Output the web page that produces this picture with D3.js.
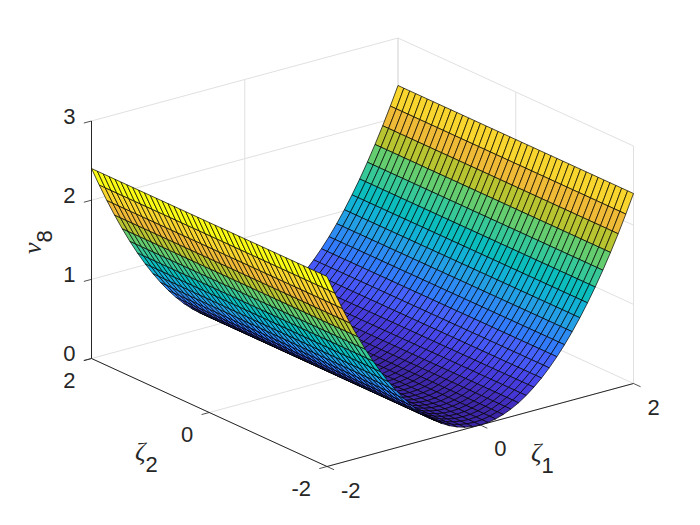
<!DOCTYPE html>
<html>
<head>
<meta charset="utf-8">
<script src="https://cdnjs.cloudflare.com/ajax/libs/d3/7.8.5/d3.min.js"></script>
<style>
  html, body { margin: 0; padding: 0; background: #fff; }
  svg { display: block; }
  text { font-family: "Liberation Sans", Arial, sans-serif; fill: #262626; }
  .greek { font-family: "Liberation Serif", serif; font-style: italic; }
</style>
</head>
<body>
<svg id="chart" width="700" height="525"></svg>
<script>
// Grid of the surface (one cell every 0.1)
var zeta1 = [-2, -1.9, -1.8, -1.7, -1.6, -1.5, -1.4, -1.3, -1.2, -1.1, -1, -0.9, -0.8, -0.7, -0.6, -0.5, -0.4, -0.3, -0.2, -0.1, 0,
             0.1, 0.2, 0.3, 0.4, 0.5, 0.6, 0.7, 0.8, 0.9, 1, 1.1, 1.2, 1.3, 1.4, 1.5, 1.6, 1.7, 1.8, 1.9, 2];
var zeta2 = [-2, -1.9, -1.8, -1.7, -1.6, -1.5, -1.4, -1.3, -1.2, -1.1, -1, -0.9, -0.8, -0.7, -0.6, -0.5, -0.4, -0.3, -0.2, -0.1, 0,
             0.1, 0.2, 0.3, 0.4, 0.5, 0.6, 0.7, 0.8, 0.9, 1, 1.1, 1.2, 1.3, 1.4, 1.5, 1.6, 1.7, 1.8, 1.9, 2];
// Height of the trough at each zeta1 (same for every zeta2)
var nuProfile = [2.4, 2.166, 1.944, 1.734, 1.536, 1.35, 1.176, 1.014, 0.864, 0.726, 0.6, 0.486, 0.384, 0.294, 0.216, 0.15, 0.096, 0.054, 0.024, 0.006, 0,
                 0.006, 0.024, 0.054, 0.096, 0.15, 0.216, 0.294, 0.384, 0.486, 0.6, 0.726, 0.864, 1.014, 1.176, 1.35, 1.536, 1.734, 1.944, 2.166, 2.4];

var zeta1Ticks = [-2, 0, 2];
var zeta2Ticks = [-2, 0, 2];
var nuTicks = [0, 1, 2, 3];

// parula colormap, 64 steps
var parula = ["#3e26a8","#402ab5","#422ebf","#4332cb","#4537d5","#463cde","#4741e5","#4747eb","#484df0","#4852f4","#4758f8","#465efb","#4563fc","#4269fe","#3e6fff","#3875fe","#327bfc","#2f81fa","#2d87f7","#2d8cf3","#2b91ef","#2796eb","#259be7","#23a0e5","#20a5e3","#1ca9df","#18addb","#12b1d6","#08b5d0","#01b8ca","#02bac3","#0bbdbc","#19bfb5","#24c1ae","#2cc3a7","#31c69f","#37c897","#3fca8e","#4acb84","#57cc7a","#64cd6f","#72cd64","#81cc59","#8fcb4e","#9dc943","#abc739","#b9c431","#c5c22a","#d1bf27","#dcbd29","#e6bb2d","#efba36","#f8ba3d","#febe3c","#fec338","#fec934","#fccf30","#f9d62d","#f7dc2a","#f5e327","#f5e924","#f6ef20","#f7f51b","#f9fb14"];

// Box of the axes on screen: one unit along each data axis
var origin = { x: 327, y: 466.5 };   // zeta1 = -2, zeta2 = -2, nu = 0
var sx1 = d3.scaleLinear().domain([-2, 2]).range([0, 306.5]);
var sy1 = d3.scaleLinear().domain([-2, 2]).range([0, -83]);
var sx2 = d3.scaleLinear().domain([-2, 2]).range([0, -235.5]);
var sy2 = d3.scaleLinear().domain([-2, 2]).range([0, -108]);
var sz = d3.scaleLinear().domain([0, 3]).range([0, -237.5]);
var color = d3.scaleQuantize().domain([0, 2.4]).range(parula);

function project(a, b, c) {
  return [origin.x + sx1(a) + sx2(b), origin.y + sy1(a) + sy2(b) + sz(c)];
}

var svg = d3.select('#chart');
var gridColor = '#e0e0e0';
var axisColor = '#262626';

function seg(g, p, q, col, w) {
  g.append('line')
    .attr('x1', p[0]).attr('y1', p[1])
    .attr('x2', q[0]).attr('y2', q[1])
    .attr('stroke', col)
    .attr('stroke-width', w);
}

// Back walls and floor grid
var back = svg.append('g').attr('class', 'grid');
nuTicks.forEach(function(t) {
  if(t == 0) return;
  seg(back, project(-2, 2, t), project(2, 2, t), gridColor, 1);
  seg(back, project(2, 2, t), project(2, -2, t), gridColor, 1);
});
zeta1Ticks.forEach(function(t) {
  seg(back, project(t, -2, 0), project(t, 2, 0), gridColor, 1);
  seg(back, project(t, 2, 0), project(t, 2, 3), gridColor, 1);
});
zeta2Ticks.forEach(function(t) {
  seg(back, project(-2, t, 0), project(2, t, 0), gridColor, 1);
  seg(back, project(2, t, 0), project(2, t, 3), gridColor, 1);
});

// Axis lines and ticks
var axes = svg.append('g').attr('class', 'axes');
seg(axes, project(-2, 2, 0), project(-2, 2, 3), axisColor, 1);
seg(axes, project(-2, -2, 0), project(2, -2, 0), axisColor, 1);
seg(axes, project(-2, -2, 0), project(-2, 2, 0), axisColor, 1);
nuTicks.forEach(function(t) {
  seg(axes, project(-2, 2, t), project(-2.1, 2, t), axisColor, 0.8);
});
zeta1Ticks.forEach(function(t) {
  seg(axes, project(t, -2, 0), project(t, -2.12, 0), axisColor, 0.8);
});
zeta2Ticks.forEach(function(t) {
  seg(axes, project(-2, t, 0), project(-2.1, t, 0), axisColor, 0.8);
});

// Surface cells, far ones first so the near wall covers the far one
var cells = [];
for(var i = zeta1.length - 2; i >= 0; i--) {
  for(var j = zeta2.length - 2; j >= 0; j--) {
    cells.push({ i: i, j: j });
  }
}

svg.append('g').attr('class', 'surface')
  .selectAll('path')
  .data(cells)
  .enter()
  .append('path')
  .attr('d', function(d) {
    return d3.line()([
      project(zeta1[d.i], zeta2[d.j], nuProfile[d.i]),
      project(zeta1[d.i + 1], zeta2[d.j], nuProfile[d.i + 1]),
      project(zeta1[d.i + 1], zeta2[d.j + 1], nuProfile[d.i + 1]),
      project(zeta1[d.i], zeta2[d.j + 1], nuProfile[d.i])
    ]) + 'Z';
  })
  .attr('fill', function(d) { return color(nuProfile[d.i]); })
  .attr('stroke', '#000')
  .attr('stroke-width', 1)
  .attr('stroke-opacity', 0.7)
  .attr('stroke-linejoin', 'round');

// Tick labels
var labels = svg.append('g').attr('font-size', 22);
nuTicks.forEach(function(t) {
  var p = project(-2, 2, t);
  labels.append('text').attr('x', p[0] - 16).attr('y', p[1] + 2.5).attr('text-anchor', 'end').text(t);
});
zeta1Ticks.forEach(function(t) {
  var p = project(t, -2, 0);
  labels.append('text').attr('x', p[0] + 14).attr('y', p[1] + 31).attr('text-anchor', 'start').text(t);
});
zeta2Ticks.forEach(function(t) {
  var p = project(-2, t, 0);
  labels.append('text').attr('x', p[0] - 16).attr('y', p[1] + 29.5).attr('text-anchor', 'end').text(t);
});

// Axis titles
function title(g, symbol, sub, drop) {
  g.append('tspan').attr('class', 'greek').attr('font-size', 26).text(symbol);
  g.append('tspan').attr('font-size', 22).attr('dy', drop).text(sub);
}
title(svg.append('text').attr('transform', 'translate(41,254) rotate(-90)'), '\u03bd', '8', 11);
title(svg.append('text').attr('x', 135).attr('y', 460), '\u03b6', '2', 12);
title(svg.append('text').attr('x', 531).attr('y', 461), '\u03b6', '1', 12);
</script>
</body>
</html>
